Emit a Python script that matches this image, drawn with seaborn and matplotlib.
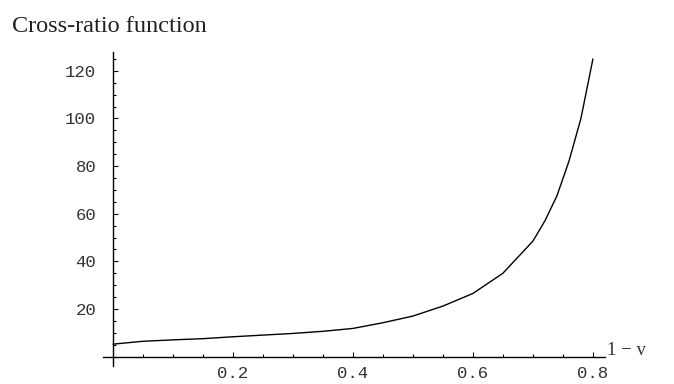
import matplotlib
matplotlib.use("Agg")
import matplotlib.pyplot as plt
import seaborn as sns
import pandas as pd
from matplotlib.ticker import MultipleLocator

# ---- data ----
one_minus_v = [0.0, 0.05, 0.10, 0.15, 0.20, 0.25, 0.30, 0.35, 0.40, 0.45,
               0.50, 0.55, 0.60, 0.65, 0.70, 0.72, 0.74, 0.76, 0.78, 0.80]
cross_ratio = [5.2, 6.4, 7.0, 7.5, 8.3, 9.0, 9.7, 10.6, 11.8, 14.2,
               17.0, 21.2, 26.5, 35.0, 48.5, 57.0, 67.5, 82.0, 100.0, 125.0]

x_ticks = [0.2, 0.4, 0.6, 0.8]
x_tick_labels = ["0.2", "0.4", "0.6", "0.8"]
y_ticks = [20, 40, 60, 80, 100, 120]
y_tick_labels = ["20", "40", "60", "80", "100", "120"]

title_text = "Cross-ratio function"
x_label_text = "1 \u2212 v"

sns.set_theme(style="white")
plt.rcParams['font.family'] = ['Liberation Mono', 'DejaVu Sans Mono']

fig = plt.figure(figsize=(6.74, 3.84), dpi=100)
fig.patch.set_facecolor("white")
ax = fig.add_axes([0.1525, 0.048, 0.745, 0.817])
ax.set_facecolor("white")

df = pd.DataFrame({"x": one_minus_v, "y": cross_ratio})
sns.lineplot(data=df, x="x", y="y", ax=ax, color="black", linewidth=1.0)

ax.set_xlim(-0.017, 0.82)
ax.set_ylim(-3.8, 128)
ax.set_xlabel("")
ax.set_ylabel("")

for s in ["top", "right"]:
    ax.spines[s].set_visible(False)
ax.spines["left"].set_position(("data", 0))
ax.spines["bottom"].set_position(("data", 0))
for s in ["left", "bottom"]:
    ax.spines[s].set_color("black")
    ax.spines[s].set_linewidth(1.0)

ax.set_xticks(x_ticks)
ax.set_xticklabels(x_tick_labels)
ax.set_yticks(y_ticks)
ax.set_yticklabels(y_tick_labels)
ax.xaxis.set_minor_locator(MultipleLocator(0.05))
ax.yaxis.set_minor_locator(MultipleLocator(5))

ax.tick_params(axis="both", which="both", direction="in", color="black",
               width=0.8, labelcolor="#333333", labelsize=12.5)
ax.tick_params(axis="both", which="major", length=3.8)
ax.tick_params(axis="both", which="minor", length=2.0)
ax.tick_params(axis="x", which="major", pad=7)
ax.tick_params(axis="y", which="major", pad=12)
ax.tick_params(bottom=True, left=True, which="both")

fig.text(12 / 674, 1 - 32 / 384, title_text, ha="left", va="baseline",
         family=["Liberation Serif", "DejaVu Serif"], fontsize=17.5, color="#222222")
fig.text(607 / 674, 1 - 355 / 384, x_label_text, ha="left", va="baseline",
         family=["Liberation Serif", "DejaVu Serif"], fontsize=13.5, color="#333333")

fig.savefig("out.png", dpi=100, facecolor="white")
